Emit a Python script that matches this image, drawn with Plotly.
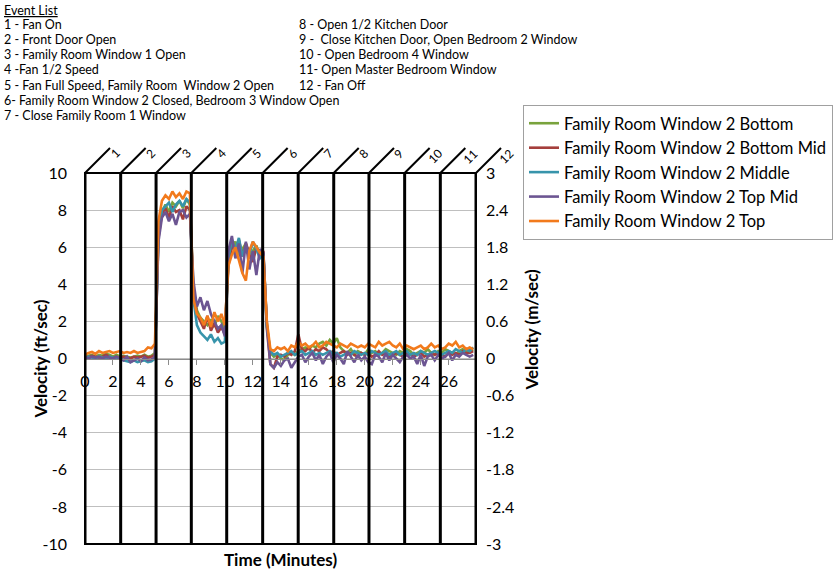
import numpy as np
import plotly.graph_objects as go

# time base, one reading every 0.25 min
minutes = list(np.round(np.arange(0, 28, 0.25), 2))

bottom = [0.1, 0.15, 0.2, 0.1, 0.2, 0.15, 0.25, 0.2, 0.1, 0.2,
          0.1, 0.15, 0.1, 0.05, 0.1, 0.15, 0.1, 0.2, 0.1, 0.15,
          0.3, 6.8, 7.9, 8.3, 7.9, 8.4, 8.2, 8.5, 8.1, 8.6,
          8.3, 3.8, 2.6, 2.2, 2.0, 1.8, 2.1, 1.7, 2.3, 2.0,
          1.5, 5.2, 6.0, 6.3, 5.6, 5.9, 6.2, 5.4, 5.8, 6.1,
          5.5, 5.7, 1.8, 0.3, 0.1, 0.2, 0.0, -0.1, 0.2, 0.3,
          0.2, 0.4, 0.5, 0.6, 0.5, 0.7, 0.6, 0.8, 0.9, 0.7,
          1.0, 0.8, 1.1, 0.6, 0.4, 0.3, 0.5, 0.2, 0.4, 0.3,
          0.2, 0.5, 0.3, 0.4, 0.2, 0.3, 0.5, 0.4, 0.3, 0.2,
          0.4, 0.3, 0.5, 0.4, 0.2, 0.3, 0.4, 0.3, 0.5, 0.3,
          0.2, 0.4, 0.3, 0.5, 0.4, 0.3, 0.2, 0.4, 0.5, 0.3,
          0.4, 0.5]

bottom_mid = [0.05, 0.1, 0.15, 0.1, 0.05, 0.1, 0.2, 0.1, 0.05, 0.1,
              0.0, 0.1, 0.05, 0.0, 0.1, 0.05, 0.1, 0.15, 0.05, 0.1,
              0.2, 6.5, 7.8, 8.1, 7.6, 8.2, 7.9, 8.0, 7.5, 8.2,
              8.0, 3.6, 2.4, 2.0, 1.6, 2.3, 1.5, 1.9, 1.4, 1.7,
              1.3, 5.0, 6.1, 5.8, 6.4, 5.5, 6.2, 5.7, 5.2, 6.0,
              5.6, 5.8, 1.6, -0.3, -0.5, 0.1, 0.2, 0.1, 0.3, 0.2,
              0.4, 1.3, 0.5, 0.4, 0.6, 0.3, 0.5, 0.4, 0.6, 0.5,
              0.3, 0.4, 0.2, 0.3, 0.4, 0.2, 0.3, 0.2, 0.1, 0.3,
              0.2, 0.3, 0.1, 0.2, 0.4, 0.2, 0.3, 0.1, 0.2, 0.3,
              0.2, 0.1, 0.3, 0.2, 0.1, 0.2, 0.3, 0.1, 0.2, 0.3,
              0.2, 0.3, 0.2, 0.1, 0.3, 0.2, 0.3, 0.2, 0.4, 0.3,
              0.3, 0.4]

middle = [0.0, 0.1, 0.05, 0.0, 0.1, 0.05, 0.0, 0.1, 0.05, 0.0,
          0.05, -0.1, -0.15, -0.2, -0.1, -0.2, -0.15, -0.1, -0.2, -0.15,
          0.0, 6.6, 8.0, 8.2, 8.4, 7.9, 8.3, 8.5, 8.2, 8.6,
          8.4, 3.2, 1.8, 1.4, 1.2, 1.0, 1.3, 0.9, 1.1, 0.8,
          0.9, 5.4, 6.4, 5.8, 6.5, 5.5, 6.1, 5.6, 6.3, 5.9,
          5.4, 5.6, 1.7, 0.4, 0.2, 0.3, 0.1, 0.2, 0.3, 0.4,
          0.2, 0.3, 0.4, 0.2, 0.3, 0.4, 0.2, 0.3, 0.2, 0.3,
          0.4, 0.2, 0.3, 0.1, 0.2, 0.3, 0.2, 0.4, 0.3, 0.2,
          0.3, 0.2, 0.4, 0.3, 0.2, 0.3, 0.4, 0.2, 0.3, 0.4,
          0.2, 0.3, 0.4, 0.2, 0.3, 0.2, 0.4, 0.3, 0.2, 0.3,
          0.4, 0.3, 0.2, 0.3, 0.4, 0.3, 0.5, 0.4, 0.3, 0.5,
          0.4, 0.6]

top_mid = [0.1, 0.0, 0.1, 0.05, 0.1, 0.0, 0.1, 0.05, 0.0, 0.1,
           0.0, -0.1, 0.1, -0.2, -0.1, 0.0, -0.15, 0.05, -0.1, -0.05,
           0.1, 6.3, 7.6, 7.9, 7.4, 7.8, 7.2, 7.9, 8.0, 7.6,
           7.8, 4.2, 2.8, 3.3, 2.6, 3.1, 2.4, 2.0, 1.6, 1.8,
           1.2, 5.8, 6.6, 5.4, 6.2, 4.6, 6.3, 4.8, 5.8, 4.5,
           5.9, 5.7, 1.9, -0.3, -0.5, -0.2, -0.4, -0.1, 0.0, -0.5,
           -0.2, 0.1, 0.2, -0.2, 0.1, 0.3, -0.1, 0.2, -0.3, 0.1,
           0.3, -0.2, 0.2, 0.0, -0.3, 0.4, 0.1, -0.2, 0.2, -0.1,
           0.1, -0.2, -0.3, 0.2, 0.1, -0.2, 0.3, -0.1, 0.2, 0.0,
           -0.2, 0.1, 0.2, 0.0, 0.1, -0.3, 0.2, -0.4, 0.1, 0.2,
           -0.1, 0.2, 0.0, 0.1, 0.3, -0.1, 0.2, 0.1, 0.3, 0.2,
           0.1, 0.2]

top = [0.2, 0.3, 0.35, 0.25, 0.4, 0.3, 0.35, 0.4, 0.3, 0.35,
       0.4, 0.3, 0.35, 0.3, 0.4, 0.3, 0.35, 0.4, 0.6, 0.55,
       0.8, 7.4, 8.5, 8.8, 8.6, 9.0, 8.7, 8.9, 8.6, 9.0,
       8.9, 3.2, 2.4, 2.2, 1.8, 2.3, 1.7, 2.5, 2.0, 2.4,
       1.8, 5.0, 5.6, 6.0, 5.3, 4.6, 4.2, 5.8, 6.3, 6.0,
       5.7, 5.5, 2.0, 0.5, 0.4, 0.6, 0.5, 0.6, 0.4, 0.7,
       0.6, 0.9, 0.7, 0.8, 0.6, 0.7, 0.9, 0.6, 0.7, 0.9,
       0.8, 0.7, 0.6, 0.8, 0.7, 0.6, 0.8, 0.7, 0.6, 0.7,
       0.6, 0.8, 0.7, 0.6, 0.9, 0.7, 0.8, 0.9, 0.7, 0.6,
       0.8, 0.5, 0.7, 0.6, 0.5, 0.6, 0.7, 0.5, 0.6, 0.8,
       0.6, 0.7, 0.5, 0.6, 0.8, 0.7, 0.9, 0.6, 0.7, 0.5,
       0.6, 0.5]

series_names = ["Family Room Window 2 Bottom", "Family Room Window 2 Bottom Mid",
                "Family Room Window 2 Middle", "Family Room Window 2 Top Mid",
                "Family Room Window 2 Top"]
series_colors = ["#79A33D", "#A53F3C", "#3794AB", "#6C5592", "#F27A1C"]

# event markers (minutes) and their numbers
event_times = [0, 2.55, 5.08, 7.6, 10.13, 12.7, 15.24, 17.78, 20.3, 22.85, 25.4, 27.95]
event_labels = ["1", "2", "3", "4", "5", "6", "7", "8", "9", "10", "11", "12"]

event_list_left = ["1 - Fan On", "2 - Front Door Open", "3 - Family Room Window 1 Open",
                   "4 -Fan 1/2 Speed", "5 - Fan Full Speed, Family Room  Window 2 Open",
                   "6- Family Room Window 2 Closed, Bedroom 3 Window Open",
                   "7 - Close Family Room 1 Window"]
event_list_right = ["8 - Open 1/2 Kitchen Door", "9 -  Close Kitchen Door, Open Bedroom 2 Window",
                    "10 - Open Bedroom 4 Window", "11- Open Master Bedroom Window", "12 - Fan Off"]

ft_ticks = [-10, -8, -6, -4, -2, 0, 2, 4, 6, 8, 10]
ft_text = ["-10", "-8", "-6", "-4", "-2", "0", "2", "4", "6", "8", "10"]
ms_ticks = [-3, -2.4, -1.8, -1.2, -0.6, 0, 0.6, 1.2, 1.8, 2.4, 3]
ms_text = ["-3", "-2.4", "-1.8", "-1.2", "-0.6", "0", "0.6", "1.2", "1.8", "2.4", "3"]

FONT = "Lato"

# plot area in pixels: left 85, right 476, top 173, bottom 544
L, R, T, B = 85, 476, 173, 544
def px(x):
    return (x - L) / (R - L)
def py(y):
    return (B - y) / (B - T)

fig = go.Figure()
for name, color, vals in zip(series_names, series_colors, [bottom, bottom_mid, middle, top_mid, top]):
    fig.add_trace(go.Scatter(x=minutes, y=vals, name=name, mode="lines",
                             line=dict(color=color, width=2.6)))

# dummy trace so the m/sec axis is drawn
fig.add_trace(go.Scatter(x=[0], y=[0], yaxis="y2", mode="markers",
                         marker=dict(opacity=0), showlegend=False, hoverinfo="skip"))

shapes = []
annotations = []
for t, lab in zip(event_times, event_labels):
    shapes.append(dict(type="line", xref="x", yref="y", x0=t, x1=t, y0=-10, y1=10,
                       line=dict(color="black", width=3), layer="above"))
    shapes.append(dict(type="line", xref="paper", yref="paper",
                       xsizemode="pixel", ysizemode="pixel",
                       xanchor=t / 27.95, yanchor=1, x0=0, x1=25, y0=0, y1=25,
                       line=dict(color="black", width=2)))
    annotations.append(dict(x=t, y=1, xref="x", yref="paper", text=lab, showarrow=False,
                            textangle=-45, xshift=30, yshift=30,
                            font=dict(family=FONT, size=12, color="black")))

shapes.append(dict(type="rect", xref="paper", yref="paper", x0=0, x1=1, y0=0, y1=1,
                   line=dict(color="black", width=2), layer="above"))

EV = 12.5
annotations.append(dict(x=px(2), y=py(10), xref="paper", yref="paper", text="<u>Event List</u>",
                        showarrow=False, xanchor="left", yanchor="middle",
                        font=dict(family=FONT, size=EV, color="black")))
for i, s in enumerate(event_list_left):
    annotations.append(dict(x=px(2), y=py(24 + 15.3 * i), xref="paper", yref="paper", text=s,
                            showarrow=False, xanchor="left", yanchor="middle",
                            font=dict(family=FONT, size=EV, color="black")))
for i, s in enumerate(event_list_right):
    annotations.append(dict(x=px(297), y=py(24 + 15.3 * i), xref="paper", yref="paper", text=s,
                            showarrow=False, xanchor="left", yanchor="middle",
                            font=dict(family=FONT, size=EV, color="black")))

annotations.append(dict(x=px(27), y=py(359), xref="paper", yref="paper", text="<b>Velocity (ft/sec)</b>",
                        showarrow=False, textangle=-90, font=dict(family=FONT, size=17, color="black")))
annotations.append(dict(x=px(543), y=py(330), xref="paper", yref="paper", text="<b>Velocity (m/sec)</b>",
                        showarrow=False, textangle=-90, font=dict(family=FONT, size=17, color="black")))
annotations.append(dict(x=0.5, y=py(572), xref="paper", yref="paper", text="<b>Time (Minutes)</b>",
                        showarrow=False, font=dict(family=FONT, size=17, color="black")))

fig.update_layout(
    width=837, height=586,
    margin=dict(l=L, r=837 - R, t=T, b=586 - B, autoexpand=False),
    paper_bgcolor="white", plot_bgcolor="white",
    font=dict(family=FONT, size=16, color="black"),
    shapes=shapes, annotations=annotations,
    legend=dict(x=px(523), y=py(105), xanchor="left", yanchor="top",
                bordercolor="#A0A0A0", borderwidth=1, itemwidth=30,
                font=dict(family=FONT, size=16.5, color="black"), tracegroupgap=0),
    xaxis=dict(range=[0, 27.95], tick0=0, dtick=2, anchor="free", position=0.5,
               showline=True, linecolor="#8C8C8C", linewidth=1,
               ticks="outside", ticklen=5, tickcolor="#8C8C8C",
               showgrid=False, zeroline=False, ticklabelstandoff=3,
               tickfont=dict(family=FONT, size=16)),
    yaxis=dict(range=[-10, 10], tickvals=ft_ticks, ticktext=ft_text, showgrid=True, gridcolor="#BFBFBF",
               zeroline=False, showline=False, ticks="", ticklabelstandoff=17,
               tickfont=dict(family=FONT, size=16)),
    yaxis2=dict(range=[-3, 3], tickvals=ms_ticks, ticktext=ms_text, overlaying="y", side="right",
                showgrid=False, zeroline=False, showline=False, ticks="", ticklabelstandoff=9,
                tickfont=dict(family=FONT, size=16)),
)

# drop the default page margin so the figure sits at the window origin
fig.write_html("out.html", config={"displayModeBar": False},
               post_script="document.body.style.margin='0';")
